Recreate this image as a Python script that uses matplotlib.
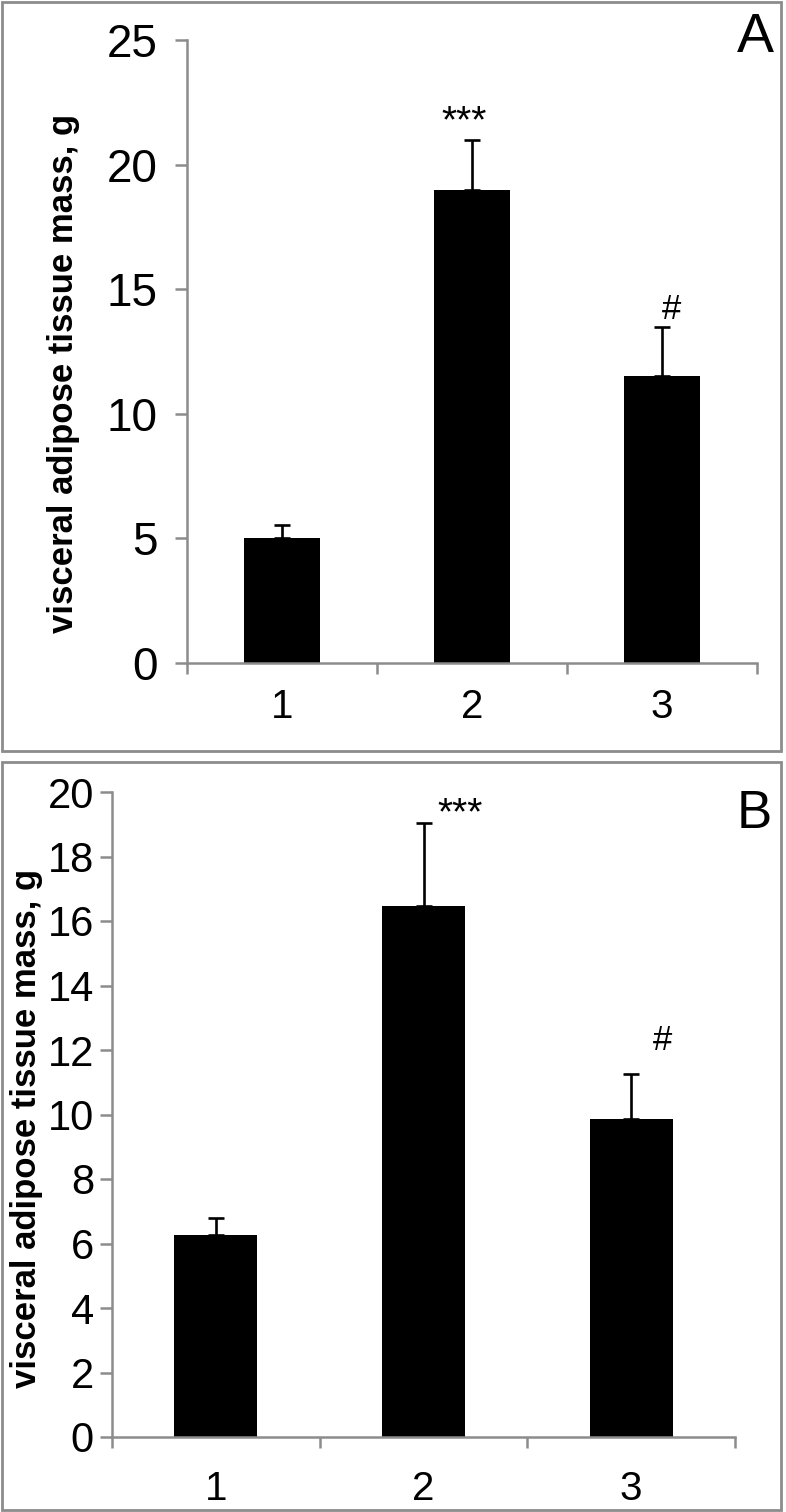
# Visceral adipose tissue mass, panels A and B

import numpy as np
import matplotlib.pyplot as plt
from matplotlib.patches import Rectangle

plt.rcParams['font.family'] = ['Liberation Sans', 'DejaVu Sans']

groups = ['1', '2', '3']

# panel A
mass_a = [5.0, 19.0, 11.5]
err_a = [0.55, 2.0, 2.0]
marks_a = ['', '***', '#']
mark_pos_a = [(0, 0), (1.96, 21.7), (3.05, 14.17)]

# panel B
mass_b = [6.25, 16.45, 9.85]
err_b = [0.55, 2.6, 1.4]
marks_b = ['', '***', '#']
mark_pos_b = [(0, 0), (2.175, 19.3), (3.15, 12.3)]

GRAY = '#8c8c8c'
W, H = 786, 1512


def panel(ax, vals, errs, marks, mark_pos, ymax, ystep, ytick_fs, ypad, xpad):
    x = np.arange(1, len(vals) + 1)
    ax.bar(x, vals, width=0.4, color='black', zorder=2)
    ax.errorbar(x, vals, yerr=[np.zeros(len(errs)), errs], fmt='none',
                ecolor='black', elinewidth=1.9, capsize=5.5, capthick=1.9, zorder=3)
    for m, (mx, my) in zip(marks, mark_pos):
        if m:
            fs = 28 if m == '***' else 25
            ax.text(mx, my, m, ha='center', va='center', fontsize=fs)
    ax.set_xlim(0.5, 3.5)
    ax.set_ylim(0, ymax)
    ax.set_yticks(np.arange(0, ymax + 0.1, ystep))
    ax.set_xticks([0.5, 1.5, 2.5, 3.5])
    ax.set_xticklabels([])
    ax.set_xticks(x, minor=True)
    ax.set_xticklabels(groups, minor=True, fontsize=29)
    ax.tick_params(axis='x', which='minor', length=0, pad=xpad)
    ax.tick_params(axis='x', which='major', direction='in', length=8,
                   color=GRAY, width=1.8)
    ax.tick_params(axis='y', direction='out', length=9, color=GRAY, width=1.8,
                   labelsize=ytick_fs, pad=ypad)
    for s in ['top', 'right']:
        ax.spines[s].set_visible(False)
    for s in ['left', 'bottom']:
        ax.spines[s].set_color(GRAY)
        ax.spines[s].set_linewidth(1.8)
    # x ticks hang below the axis
    for t in ax.xaxis.get_major_ticks():
        t.tick1line.set_marker(3)
    ax.set_ylabel('visceral adipose tissue mass, g', fontsize=25, fontweight='bold')


fig = plt.figure(figsize=(W / 100, H / 100), dpi=100)

ax_a = fig.add_axes([187 / W, (H - 663) / H, 570 / W, 623 / H])
panel(ax_a, mass_a, err_a, marks_a, mark_pos_a, 25, 5, 33, 12, 18)
ax_a.yaxis.set_label_coords(-0.188, 0.465)

ax_b = fig.add_axes([112 / W, (H - 1437) / H, 623 / W, 645 / H])
panel(ax_b, mass_b, err_b, marks_b, mark_pos_b, 20, 2, 30, 4, 24)
ax_b.yaxis.set_label_coords(-0.111, 0.479)

fig.text(774 / W, (H - 52) / H, 'A', fontsize=40, ha='right', va='baseline')
fig.text(772 / W, (H - 828) / H, 'B', fontsize=38, ha='right', va='baseline')

# panel frames
fig.patches.append(Rectangle((2 / W, (H - 751) / H), 779 / W, 749 / H,
                             transform=fig.transFigure, fill=False,
                             edgecolor=GRAY, linewidth=2))
fig.patches.append(Rectangle((2 / W, (H - 1510) / H), 779 / W, 748 / H,
                             transform=fig.transFigure, fill=False,
                             edgecolor=GRAY, linewidth=2))

fig.savefig('out.png', dpi=100)
